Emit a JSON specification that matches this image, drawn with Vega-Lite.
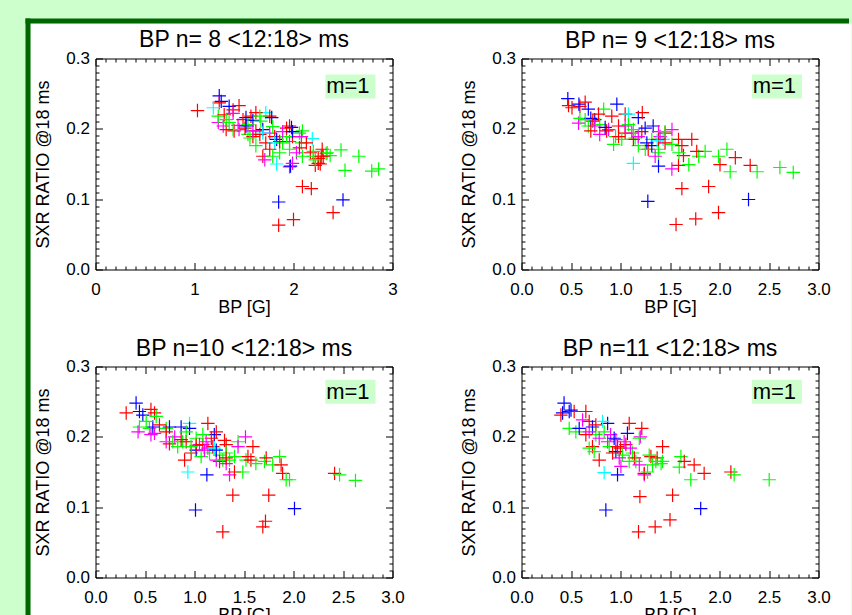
{
  "$schema": "https://vega.github.io/schema/vega-lite/v6.json",
  "background": "#ccffcc",
  "padding": {"left": 23.5, "top": 16.5, "right": 0, "bottom": 0},
  "columns": 2,
  "spacing": {"row": 97, "column": 129},
  "bounds": "flush",
  "config": {
    "view": {"stroke": null},
    "font": "Liberation Sans",
    "axis": {"domainColor": "black", "domainWidth": 1, "tickColor": "black", "tickWidth": 1, "labelColor": "black", "labelFont": "Liberation Sans", "labelFontSize": 17, "titleFont": "Liberation Sans", "titleFontSize": 18, "titleFontWeight": "normal", "titleColor": "black", "grid": false, "zindex": 1, "minExtent": 0, "labelOverlap": false, "labelFlush": false, "labelBound": false}
  },
  "datasets": {
    "p8": [
      {"c":"r","x":1.03,"y":0.226},{"c":"b","x":1.85,"y":0.096},{"c":"b","x":2.50,"y":0.099},{"c":"r","x":1.85,"y":0.063},{"c":"r","x":2.00,"y":0.071},{"c":"r","x":2.40,"y":0.081},{"c":"r","x":2.09,"y":0.118},{"c":"r","x":2.18,"y":0.115},{"c":"g","x":2.52,"y":0.141},{"c":"g","x":2.66,"y":0.161},{"c":"g","x":2.48,"y":0.170},{"c":"g","x":2.79,"y":0.140},{"c":"g","x":2.86,"y":0.143},{"c":"c","x":2.19,"y":0.186},{"c":"c","x":1.83,"y":0.150},{"c":"m","x":1.96,"y":0.146},{"c":"b","x":1.97,"y":0.147},{"c":"g","x":2.37,"y":0.162},{"c":"r","x":2.27,"y":0.150},{"c":"r","x":2.22,"y":0.148},{"c":"r","x":2.30,"y":0.161},{"c":"g","x":2.20,"y":0.168},{"c":"g","x":2.09,"y":0.197},{"c":"g","x":2.33,"y":0.165},{"c":"r","x":2.25,"y":0.158},{"c":"b","x":1.25,"y":0.247},{"c":"b","x":1.27,"y":0.239},{"c":"b","x":1.35,"y":0.232},{"c":"r","x":1.25,"y":0.237},{"c":"r","x":1.45,"y":0.233},{"c":"c","x":1.19,"y":0.230},{"c":"m","x":1.24,"y":0.209},{"c":"m","x":1.29,"y":0.204},{"c":"g","x":1.24,"y":0.218},{"c":"r","x":1.30,"y":0.220},{"c":"g","x":1.35,"y":0.209},{"c":"r","x":1.40,"y":0.197},{"c":"m","x":1.45,"y":0.199},{"c":"g","x":1.54,"y":0.192},{"c":"b","x":1.52,"y":0.216},{"c":"r","x":1.57,"y":0.218},{"c":"b","x":1.59,"y":0.212},{"c":"r","x":1.62,"y":0.197},{"c":"r","x":1.66,"y":0.192},{"c":"c","x":1.72,"y":0.223},{"c":"r","x":1.76,"y":0.218},{"c":"b","x":1.78,"y":0.216},{"c":"g","x":1.67,"y":0.211},{"c":"b","x":1.69,"y":0.199},{"c":"r","x":1.72,"y":0.180},{"c":"r","x":1.69,"y":0.161},{"c":"m","x":1.71,"y":0.156},{"c":"g","x":1.62,"y":0.176},{"c":"g","x":1.86,"y":0.166},{"c":"m","x":1.76,"y":0.194},{"c":"r","x":1.81,"y":0.189},{"c":"b","x":1.83,"y":0.185},{"c":"c","x":1.81,"y":0.180},{"c":"g","x":1.89,"y":0.180},{"c":"r","x":1.96,"y":0.204},{"c":"b","x":1.98,"y":0.202},{"c":"r","x":1.99,"y":0.189},{"c":"m","x":1.96,"y":0.182},{"c":"g","x":2.06,"y":0.194},{"c":"g","x":2.08,"y":0.180},{"c":"r","x":2.06,"y":0.173},{"c":"m","x":2.03,"y":0.166},{"c":"g","x":1.96,"y":0.171},{"c":"r","x":1.86,"y":0.182},{"c":"g","x":1.93,"y":0.189},{"c":"r","x":1.93,"y":0.201},{"c":"m","x":1.89,"y":0.196},{"c":"g","x":1.79,"y":0.203},{"c":"c","x":1.69,"y":0.194},{"c":"r","x":1.59,"y":0.189},{"c":"g","x":1.56,"y":0.187},{"c":"r","x":1.51,"y":0.201},{"c":"m","x":1.44,"y":0.205},{"c":"g","x":1.39,"y":0.199},{"c":"r","x":1.32,"y":0.199},{"c":"g","x":1.32,"y":0.213},{"c":"r","x":1.39,"y":0.227},{"c":"m","x":1.39,"y":0.222},{"c":"r","x":1.49,"y":0.213},{"c":"g","x":1.54,"y":0.206},{"c":"r","x":1.62,"y":0.223},{"c":"g","x":1.66,"y":0.218},{"c":"b","x":1.52,"y":0.204},{"c":"m","x":1.59,"y":0.197},{"c":"r","x":1.76,"y":0.171},{"c":"g","x":1.79,"y":0.161},{"c":"m","x":1.99,"y":0.151},{"c":"g","x":2.09,"y":0.161},{"c":"r","x":2.13,"y":0.180},{"c":"r","x":2.17,"y":0.166},{"c":"g","x":2.20,"y":0.161},{"c":"r","x":2.25,"y":0.151},{"c":"g","x":2.22,"y":0.156},{"c":"r","x":2.29,"y":0.171},{"c":"g","x":2.34,"y":0.166},{"c":"r","x":2.28,"y":0.161},{"c":"m","x":2.08,"y":0.189},{"c":"b","x":1.99,"y":0.196}
    ],
    "p9": [
      {"c":"b","x":0.468,"y":0.243},{"c":"r","x":0.475,"y":0.233},{"c":"r","x":0.51,"y":0.230},{"c":"r","x":0.59,"y":0.232},{"c":"b","x":0.58,"y":0.235},{"c":"b","x":0.675,"y":0.228},{"c":"r","x":0.643,"y":0.238},{"c":"m","x":0.576,"y":0.208},{"c":"g","x":0.59,"y":0.215},{"c":"b","x":0.963,"y":0.235},{"c":"g","x":0.83,"y":0.228},{"c":"b","x":0.70,"y":0.215},{"c":"b","x":0.74,"y":0.213},{"c":"c","x":1.13,"y":0.151},{"c":"b","x":1.384,"y":0.147},{"c":"m","x":1.519,"y":0.143},{"c":"r","x":1.586,"y":0.148},{"c":"r","x":1.636,"y":0.162},{"c":"b","x":1.276,"y":0.097},{"c":"b","x":2.293,"y":0.0995},{"c":"r","x":1.561,"y":0.064},{"c":"r","x":1.76,"y":0.072},{"c":"r","x":1.99,"y":0.081},{"c":"r","x":1.62,"y":0.115},{"c":"r","x":1.89,"y":0.118},{"c":"g","x":2.61,"y":0.145},{"c":"g","x":2.745,"y":0.138},{"c":"g","x":2.38,"y":0.139},{"c":"r","x":2.31,"y":0.148},{"c":"g","x":2.108,"y":0.139},{"c":"r","x":2.16,"y":0.159},{"c":"r","x":2.005,"y":0.149},{"c":"g","x":2.075,"y":0.171},{"c":"g","x":1.99,"y":0.161},{"c":"g","x":1.855,"y":0.168},{"c":"g","x":1.79,"y":0.161},{"c":"g","x":1.69,"y":0.149},{"c":"r","x":1.72,"y":0.185},{"c":"r","x":1.77,"y":0.168},{"c":"r","x":1.586,"y":0.185},{"c":"r","x":1.62,"y":0.176},{"c":"g","x":1.52,"y":0.178},{"c":"m","x":1.52,"y":0.199},{"c":"r","x":1.45,"y":0.194},{"c":"g","x":1.59,"y":0.166},{"c":"g","x":1.384,"y":0.166},{"c":"r","x":0.778,"y":0.221},{"c":"r","x":0.912,"y":0.218},{"c":"g","x":0.79,"y":0.206},{"c":"m","x":0.88,"y":0.199},{"c":"r","x":0.86,"y":0.197},{"c":"m","x":0.79,"y":0.192},{"c":"r","x":0.98,"y":0.204},{"c":"b","x":0.845,"y":0.202},{"c":"g","x":0.93,"y":0.178},{"c":"g","x":0.95,"y":0.189},{"c":"r","x":1.047,"y":0.221},{"c":"c","x":1.08,"y":0.221},{"c":"b","x":1.18,"y":0.216},{"c":"r","x":1.22,"y":0.223},{"c":"g","x":1.08,"y":0.206},{"c":"r","x":1.047,"y":0.194},{"c":"m","x":1.114,"y":0.194},{"c":"g","x":1.148,"y":0.187},{"c":"r","x":1.215,"y":0.196},{"c":"b","x":1.249,"y":0.201},{"c":"b","x":1.33,"y":0.204},{"c":"m","x":1.384,"y":0.196},{"c":"g","x":1.316,"y":0.185},{"c":"b","x":1.266,"y":0.180},{"c":"r","x":1.28,"y":0.171},{"c":"m","x":1.35,"y":0.161},{"c":"g","x":1.384,"y":0.171},{"c":"c","x":1.43,"y":0.185},{"c":"r","x":1.45,"y":0.180},{"c":"g","x":1.18,"y":0.176},{"c":"r","x":1.13,"y":0.185},{"c":"m","x":1.18,"y":0.189},{"c":"g","x":1.013,"y":0.185},{"c":"r","x":0.98,"y":0.189},{"c":"g","x":1.25,"y":0.171},{"c":"b","x":1.316,"y":0.176},{"c":"r","x":1.384,"y":0.185},{"c":"m","x":1.40,"y":0.189},{"c":"g","x":1.45,"y":0.196},{"c":"r","x":0.72,"y":0.211},{"c":"g","x":0.675,"y":0.204},{"c":"m","x":0.74,"y":0.204},{"c":"r","x":0.70,"y":0.197},{"c":"g","x":0.643,"y":0.213},{"c":"m","x":1.047,"y":0.204},{"c":"g","x":1.13,"y":0.199},{"c":"c","x":1.37,"y":0.183}
    ],
    "p10": [
      {"c":"r","x":0.31,"y":0.234},{"c":"b","x":0.41,"y":0.248},{"c":"b","x":0.444,"y":0.236},{"c":"b","x":0.478,"y":0.231},{"c":"r","x":0.56,"y":0.239},{"c":"r","x":0.596,"y":0.234},{"c":"g","x":0.444,"y":0.214},{"c":"g","x":0.545,"y":0.212},{"c":"m","x":0.43,"y":0.207},{"c":"b","x":0.579,"y":0.214},{"c":"m","x":0.56,"y":0.203},{"c":"g","x":0.613,"y":0.229},{"c":"g","x":0.714,"y":0.212},{"c":"b","x":0.747,"y":0.214},{"c":"r","x":0.714,"y":0.207},{"c":"m","x":0.714,"y":0.193},{"c":"r","x":0.747,"y":0.19},{"c":"m","x":0.80,"y":0.20},{"c":"b","x":0.865,"y":0.214},{"c":"c","x":0.95,"y":0.219},{"c":"b","x":0.95,"y":0.212},{"c":"r","x":1.135,"y":0.219},{"c":"g","x":0.83,"y":0.186},{"c":"g","x":0.88,"y":0.193},{"c":"r","x":0.916,"y":0.193},{"c":"r","x":0.90,"y":0.167},{"c":"c","x":0.933,"y":0.150},{"c":"b","x":1.125,"y":0.146},{"c":"r","x":0.966,"y":0.177},{"c":"g","x":1.017,"y":0.198},{"c":"b","x":1.017,"y":0.181},{"c":"g","x":1.067,"y":0.172},{"c":"m","x":1.05,"y":0.189},{"c":"r","x":1.084,"y":0.189},{"c":"b","x":1.2,"y":0.203},{"c":"r","x":1.22,"y":0.207},{"c":"m","x":1.135,"y":0.184},{"c":"g","x":1.152,"y":0.177},{"c":"r","x":1.185,"y":0.186},{"c":"c","x":1.2,"y":0.184},{"c":"g","x":1.253,"y":0.174},{"c":"r","x":1.253,"y":0.165},{"c":"m","x":1.22,"y":0.167},{"c":"g","x":1.286,"y":0.167},{"c":"r","x":1.303,"y":0.195},{"c":"r","x":1.32,"y":0.189},{"c":"g","x":1.354,"y":0.167},{"c":"m","x":1.32,"y":0.162},{"c":"m","x":1.354,"y":0.146},{"c":"r","x":1.404,"y":0.150},{"c":"g","x":1.44,"y":0.193},{"c":"m","x":1.44,"y":0.186},{"c":"m","x":1.515,"y":0.200},{"c":"r","x":1.59,"y":0.186},{"c":"g","x":1.488,"y":0.150},{"c":"g","x":1.52,"y":0.167},{"c":"r","x":1.54,"y":0.172},{"c":"r","x":1.57,"y":0.167},{"c":"g","x":1.62,"y":0.162},{"c":"g","x":1.707,"y":0.165},{"c":"r","x":1.724,"y":0.170},{"c":"g","x":1.79,"y":0.160},{"c":"g","x":1.86,"y":0.172},{"c":"r","x":1.875,"y":0.160},{"c":"r","x":1.89,"y":0.148},{"c":"g","x":1.926,"y":0.139},{"c":"g","x":1.96,"y":0.139},{"c":"r","x":1.387,"y":0.117},{"c":"r","x":1.75,"y":0.117},{"c":"b","x":1.01,"y":0.096},{"c":"b","x":2.01,"y":0.098},{"c":"r","x":1.717,"y":0.080},{"c":"r","x":1.69,"y":0.072},{"c":"r","x":1.286,"y":0.065},{"c":"r","x":2.415,"y":0.148},{"c":"g","x":2.465,"y":0.146},{"c":"g","x":2.626,"y":0.138},{"c":"r","x":1.017,"y":0.188},{"c":"g","x":0.966,"y":0.186},{"c":"m","x":1.10,"y":0.181},{"c":"g","x":1.084,"y":0.203},{"c":"r","x":1.17,"y":0.198},{"c":"g","x":0.916,"y":0.207},{"c":"r","x":0.865,"y":0.196},{"c":"m","x":1.118,"y":0.193},{"c":"b","x":1.22,"y":0.181},{"c":"g","x":1.32,"y":0.177},{"c":"r","x":1.32,"y":0.170},{"c":"g","x":1.404,"y":0.172},{"c":"g","x":0.781,"y":0.193},{"c":"r","x":0.646,"y":0.217},{"c":"m","x":0.596,"y":0.205},{"c":"g","x":0.512,"y":0.222}
    ],
    "p11": [
      {"c":"b","x":0.43,"y":0.248},{"c":"b","x":0.415,"y":0.234},{"c":"b","x":0.482,"y":0.236},{"c":"r","x":0.398,"y":0.231},{"c":"r","x":0.532,"y":0.236},{"c":"b","x":0.50,"y":0.238},{"c":"r","x":0.65,"y":0.236},{"c":"g","x":0.482,"y":0.212},{"c":"g","x":0.549,"y":0.207},{"c":"b","x":0.583,"y":0.212},{"c":"m","x":0.617,"y":0.224},{"c":"r","x":0.684,"y":0.222},{"c":"b","x":0.717,"y":0.214},{"c":"r","x":0.751,"y":0.217},{"c":"b","x":0.87,"y":0.219},{"c":"c","x":0.819,"y":0.222},{"c":"g","x":0.751,"y":0.203},{"c":"m","x":0.785,"y":0.198},{"c":"r","x":0.717,"y":0.186},{"c":"g","x":0.734,"y":0.179},{"c":"r","x":0.785,"y":0.167},{"c":"c","x":0.835,"y":0.149},{"c":"b","x":0.97,"y":0.146},{"c":"m","x":0.87,"y":0.193},{"c":"g","x":0.886,"y":0.186},{"c":"b","x":0.953,"y":0.179},{"c":"r","x":0.97,"y":0.186},{"c":"m","x":0.953,"y":0.196},{"c":"r","x":1.0,"y":0.184},{"c":"g","x":1.02,"y":0.174},{"c":"b","x":1.07,"y":0.205},{"c":"r","x":1.088,"y":0.219},{"c":"r","x":1.215,"y":0.212},{"c":"m","x":1.2,"y":0.200},{"c":"g","x":1.19,"y":0.198},{"c":"r","x":1.054,"y":0.189},{"c":"m","x":1.037,"y":0.193},{"c":"g","x":1.12,"y":0.177},{"c":"r","x":1.14,"y":0.170},{"c":"g","x":1.155,"y":0.165},{"c":"m","x":1.19,"y":0.160},{"c":"m","x":1.24,"y":0.146},{"c":"r","x":1.24,"y":0.148},{"c":"g","x":1.273,"y":0.150},{"c":"r","x":1.307,"y":0.172},{"c":"r","x":1.425,"y":0.186},{"c":"r","x":1.37,"y":0.170},{"c":"g","x":1.41,"y":0.162},{"c":"g","x":1.357,"y":0.165},{"c":"g","x":1.61,"y":0.172},{"c":"g","x":1.594,"y":0.157},{"c":"r","x":1.644,"y":0.165},{"c":"r","x":1.744,"y":0.160},{"c":"r","x":1.845,"y":0.148},{"c":"g","x":1.71,"y":0.139},{"c":"r","x":2.115,"y":0.150},{"c":"g","x":2.148,"y":0.146},{"c":"g","x":2.502,"y":0.139},{"c":"r","x":1.196,"y":0.115},{"c":"r","x":1.526,"y":0.117},{"c":"b","x":0.852,"y":0.096},{"c":"b","x":1.81,"y":0.098},{"c":"r","x":1.50,"y":0.082},{"c":"r","x":1.35,"y":0.072},{"c":"r","x":1.182,"y":0.065},{"c":"g","x":0.684,"y":0.184},{"c":"r","x":0.65,"y":0.203},{"c":"m","x":0.684,"y":0.207},{"c":"g","x":0.835,"y":0.207},{"c":"m","x":0.90,"y":0.203},{"c":"r","x":0.92,"y":0.177},{"c":"m","x":0.987,"y":0.170},{"c":"b","x":0.936,"y":0.198},{"c":"g","x":1.088,"y":0.165},{"c":"m","x":1.10,"y":0.184},{"c":"g","x":1.29,"y":0.174},{"c":"g","x":1.425,"y":0.165},{"c":"g","x":1.323,"y":0.160},{"c":"m","x":1.004,"y":0.158}
    ]
  },
  "concat": [
    {
      "width": 297, "height": 211,
      "title": {"text": "BP n= 8 <12:18> ms", "fontSize": 23, "fontWeight": "normal", "color": "black", "font": "Liberation Sans", "baseline": "alphabetic", "anchor": "middle", "frame": "group", "offset": -52.5, "zindex": 1},
      "resolve": {"axis": {"x": "independent", "y": "independent"}},
      "layer": [
        {"data": {"values": [{}]}, "mark": {"type": "rect", "fill": "white"},
         "encoding": {"x": {"datum": -0.6566, "type": "quantitative", "scale": {"domain": [0, 3], "nice": false, "zero": false}, "axis": null}, "x2": {"datum": 7.6364},
                      "y": {"datum": 0.3498, "type": "quantitative", "scale": {"domain": [0, 0.3], "nice": false, "zero": false}, "axis": null}, "y2": {"datum": -0.5048}}},
        {"data": {"values": [{}]}, "mark": {"type": "rule", "color": "#006600", "strokeWidth": 5, "strokeCap": "square"},
         "encoding": {"x": {"datum": -0.6818, "type": "quantitative", "scale": {"domain": [0, 3], "nice": false, "zero": false}, "axis": null}, "x2": {"datum": 7.5859},
                      "y": {"datum": 0.3533, "type": "quantitative", "scale": {"domain": [0, 0.3], "nice": false, "zero": false}, "axis": null}}},
        {"data": {"values": [{}]}, "mark": {"type": "rule", "color": "#006600", "strokeWidth": 5, "strokeCap": "square"},
         "encoding": {"x": {"datum": -0.6818, "type": "quantitative", "scale": {"domain": [0, 3], "nice": false, "zero": false}, "axis": null},
                      "y": {"datum": 0.3533, "type": "quantitative", "scale": {"domain": [0, 0.3], "nice": false, "zero": false}, "axis": null}, "y2": {"datum": -0.4977}}},
        {"data": {"values": [{}]}, "mark": {"type": "rect", "fill": "#ccffcc"},
         "encoding": {
           "x": {"datum": 2.323, "type": "quantitative", "scale": {"domain": [0, 3], "nice": false, "zero": false},
                 "axis": {"orient": "top", "zindex": 1, "minExtent": 0, "maxExtent": 0, "title": null, "labels": false, "values": [0,0.1,0.2,0.3,0.4,0.5,0.6,0.7,0.8,0.9,1,1.1,1.2,1.3,1.4,1.5,1.6,1.7,1.8,1.9,2,2.1,2.2,2.3,2.4,2.5,2.6,2.7,2.8,2.9,3],
                          "tickSize": {"condition": {"test": "abs(datum.value-round(datum.value))<0.001", "value": -7}, "value": -3.5}}},
           "x2": {"datum": 2.828},
           "y": {"datum": 0.2773, "type": "quantitative", "scale": {"domain": [0, 0.3], "nice": false, "zero": false},
                 "axis": {"orient": "right", "zindex": 1, "minExtent": 0, "maxExtent": 0, "title": null, "labels": false, "values": [0,0.01,0.02,0.03,0.04,0.05,0.06,0.07,0.08,0.09,0.1,0.11,0.12,0.13,0.14,0.15,0.16,0.17,0.18,0.19,0.2,0.21,0.22,0.23,0.24,0.25,0.26,0.27,0.28,0.29,0.3],
                          "tickSize": {"condition": {"test": "abs(datum.value*10-round(datum.value*10))<0.001", "value": -7}, "value": -3.5}}},
           "y2": {"datum": 0.2431}}},
        {"data": {"values": [{}]}, "mark": {"type": "text", "text": "m=1", "align": "left", "baseline": "alphabetic", "fontSize": 22, "font": "Liberation Sans", "color": "black"},
         "encoding": {"x": {"datum": 2.33, "type": "quantitative", "scale": {"domain": [0, 3], "nice": false, "zero": false}, "axis": null},
                      "y": {"datum": 0.2503, "type": "quantitative", "scale": {"domain": [0, 0.3], "nice": false, "zero": false}, "axis": null}}},
        {"data": {"name": "p8"}, "mark": {"type": "point", "shape": "M-1,0H1M0,-1V1", "filled": false, "strokeWidth": 1.2, "size": 180, "opacity": 1},
         "encoding": {
           "x": {"field": "x", "type": "quantitative", "scale": {"domain": [0, 3], "nice": false, "zero": false},
                 "axis": {"orient": "bottom", "zindex": 1, "minExtent": 0, "title": "BP [G]", "titlePadding": -2.5, "labelPadding": 18.5, "values": [0,0.1,0.2,0.3,0.4,0.5,0.6,0.7,0.8,0.9,1,1.1,1.2,1.3,1.4,1.5,1.6,1.7,1.8,1.9,2,2.1,2.2,2.3,2.4,2.5,2.6,2.7,2.8,2.9,3],
                          "labelExpr": "abs(datum.value-round(datum.value))<0.001 ? format(datum.value, '.0f') : ''",
                          "tickSize": {"condition": {"test": "abs(datum.value-round(datum.value))<0.001", "value": -7}, "value": -3.5}}},
           "y": {"field": "y", "type": "quantitative", "scale": {"domain": [0, 0.3], "nice": false, "zero": false},
                 "axis": {"orient": "left", "zindex": 1, "minExtent": 0, "title": "SXR RATIO @18 ms", "titlePadding": 13, "labelPadding": 13, "values": [0,0.01,0.02,0.03,0.04,0.05,0.06,0.07,0.08,0.09,0.1,0.11,0.12,0.13,0.14,0.15,0.16,0.17,0.18,0.19,0.2,0.21,0.22,0.23,0.24,0.25,0.26,0.27,0.28,0.29,0.3],
                          "labelExpr": "abs(datum.value*10-round(datum.value*10))<0.001 ? format(datum.value, '.1f') : ''",
                          "tickSize": {"condition": {"test": "abs(datum.value*10-round(datum.value*10))<0.001", "value": -7}, "value": -3.5}}},
           "color": {"field": "c", "type": "nominal", "scale": {"domain": ["r","g","b","c","m"], "range": ["#ff0000","#00ff00","#0000ff","#00ffff","#ff00ff"]}, "legend": null}}}
      ]
    },
    {
      "width": 297, "height": 211,
      "title": {"text": "BP n= 9 <12:18> ms", "fontSize": 23, "fontWeight": "normal", "color": "black", "font": "Liberation Sans", "baseline": "alphabetic", "anchor": "middle", "frame": "group", "offset": -21, "zindex": 1},
      "resolve": {"axis": {"x": "independent", "y": "independent"}},
      "layer": [
        {"data": {"values": [{}]}, "mark": {"type": "rect", "fill": "#ccffcc"},
         "encoding": {
           "x": {"datum": 2.327, "type": "quantitative", "scale": {"domain": [0, 3], "nice": false, "zero": false},
                 "axis": {"orient": "top", "zindex": 1, "minExtent": 0, "maxExtent": 0, "title": null, "labels": false, "values": [0,0.1,0.2,0.3,0.4,0.5,0.6,0.7,0.8,0.9,1,1.1,1.2,1.3,1.4,1.5,1.6,1.7,1.8,1.9,2,2.1,2.2,2.3,2.4,2.5,2.6,2.7,2.8,2.9,3],
                          "tickSize": {"condition": {"test": "abs(datum.value*2-round(datum.value*2))<0.001", "value": -7}, "value": -3.5}}},
           "x2": {"datum": 2.832},
           "y": {"datum": 0.2773, "type": "quantitative", "scale": {"domain": [0, 0.3], "nice": false, "zero": false},
                 "axis": {"orient": "right", "zindex": 1, "minExtent": 0, "maxExtent": 0, "title": null, "labels": false, "values": [0,0.01,0.02,0.03,0.04,0.05,0.06,0.07,0.08,0.09,0.1,0.11,0.12,0.13,0.14,0.15,0.16,0.17,0.18,0.19,0.2,0.21,0.22,0.23,0.24,0.25,0.26,0.27,0.28,0.29,0.3],
                          "tickSize": {"condition": {"test": "abs(datum.value*10-round(datum.value*10))<0.001", "value": -7}, "value": -3.5}}},
           "y2": {"datum": 0.2431}}},
        {"data": {"values": [{}]}, "mark": {"type": "text", "text": "m=1", "align": "left", "baseline": "alphabetic", "fontSize": 22, "font": "Liberation Sans", "color": "black"},
         "encoding": {"x": {"datum": 2.335, "type": "quantitative", "scale": {"domain": [0, 3], "nice": false, "zero": false}, "axis": null},
                      "y": {"datum": 0.2503, "type": "quantitative", "scale": {"domain": [0, 0.3], "nice": false, "zero": false}, "axis": null}}},
        {"data": {"name": "p9"}, "mark": {"type": "point", "shape": "M-1,0H1M0,-1V1", "filled": false, "strokeWidth": 1.2, "size": 180, "opacity": 1},
         "encoding": {
           "x": {"field": "x", "type": "quantitative", "scale": {"domain": [0, 3], "nice": false, "zero": false},
                 "axis": {"orient": "bottom", "zindex": 1, "minExtent": 0, "title": "BP [G]", "titlePadding": -2.5, "labelPadding": 18.5, "values": [0,0.1,0.2,0.3,0.4,0.5,0.6,0.7,0.8,0.9,1,1.1,1.2,1.3,1.4,1.5,1.6,1.7,1.8,1.9,2,2.1,2.2,2.3,2.4,2.5,2.6,2.7,2.8,2.9,3],
                          "labelExpr": "abs(datum.value*2-round(datum.value*2))<0.001 ? format(datum.value, '.1f') : ''",
                          "tickSize": {"condition": {"test": "abs(datum.value*2-round(datum.value*2))<0.001", "value": -7}, "value": -3.5}}},
           "y": {"field": "y", "type": "quantitative", "scale": {"domain": [0, 0.3], "nice": false, "zero": false},
                 "axis": {"orient": "left", "zindex": 1, "minExtent": 0, "title": "SXR RATIO @18 ms", "titlePadding": 13, "labelPadding": 13, "values": [0,0.01,0.02,0.03,0.04,0.05,0.06,0.07,0.08,0.09,0.1,0.11,0.12,0.13,0.14,0.15,0.16,0.17,0.18,0.19,0.2,0.21,0.22,0.23,0.24,0.25,0.26,0.27,0.28,0.29,0.3],
                          "labelExpr": "abs(datum.value*10-round(datum.value*10))<0.001 ? format(datum.value, '.1f') : ''",
                          "tickSize": {"condition": {"test": "abs(datum.value*10-round(datum.value*10))<0.001", "value": -7}, "value": -3.5}}},
           "color": {"field": "c", "type": "nominal", "scale": {"domain": ["r","g","b","c","m"], "range": ["#ff0000","#00ff00","#0000ff","#00ffff","#ff00ff"]}, "legend": null}}}
      ]
    },
    {
      "width": 297, "height": 211,
      "title": {"text": "BP n=10 <12:18> ms", "fontSize": 23, "fontWeight": "normal", "color": "black", "font": "Liberation Sans", "baseline": "alphabetic", "anchor": "middle", "frame": "group", "offset": -21, "zindex": 1},
      "resolve": {"axis": {"x": "independent", "y": "independent"}},
      "layer": [
        {"data": {"values": [{}]}, "mark": {"type": "rect", "fill": "#ccffcc"},
         "encoding": {
           "x": {"datum": 2.323, "type": "quantitative", "scale": {"domain": [0, 3], "nice": false, "zero": false},
                 "axis": {"orient": "top", "zindex": 1, "minExtent": 0, "maxExtent": 0, "title": null, "labels": false, "values": [0,0.1,0.2,0.3,0.4,0.5,0.6,0.7,0.8,0.9,1,1.1,1.2,1.3,1.4,1.5,1.6,1.7,1.8,1.9,2,2.1,2.2,2.3,2.4,2.5,2.6,2.7,2.8,2.9,3],
                          "tickSize": {"condition": {"test": "abs(datum.value*2-round(datum.value*2))<0.001", "value": -7}, "value": -3.5}}},
           "x2": {"datum": 2.828},
           "y": {"datum": 0.281, "type": "quantitative", "scale": {"domain": [0, 0.3], "nice": false, "zero": false},
                 "axis": {"orient": "right", "zindex": 1, "minExtent": 0, "maxExtent": 0, "title": null, "labels": false, "values": [0,0.01,0.02,0.03,0.04,0.05,0.06,0.07,0.08,0.09,0.1,0.11,0.12,0.13,0.14,0.15,0.16,0.17,0.18,0.19,0.2,0.21,0.22,0.23,0.24,0.25,0.26,0.27,0.28,0.29,0.3],
                          "tickSize": {"condition": {"test": "abs(datum.value*10-round(datum.value*10))<0.001", "value": -7}, "value": -3.5}}},
           "y2": {"datum": 0.247}}},
        {"data": {"values": [{}]}, "mark": {"type": "text", "text": "m=1", "align": "left", "baseline": "alphabetic", "fontSize": 22, "font": "Liberation Sans", "color": "black"},
         "encoding": {"x": {"datum": 2.33, "type": "quantitative", "scale": {"domain": [0, 3], "nice": false, "zero": false}, "axis": null},
                      "y": {"datum": 0.2536, "type": "quantitative", "scale": {"domain": [0, 0.3], "nice": false, "zero": false}, "axis": null}}},
        {"data": {"name": "p10"}, "mark": {"type": "point", "shape": "M-1,0H1M0,-1V1", "filled": false, "strokeWidth": 1.2, "size": 180, "opacity": 1},
         "encoding": {
           "x": {"field": "x", "type": "quantitative", "scale": {"domain": [0, 3], "nice": false, "zero": false},
                 "axis": {"orient": "bottom", "zindex": 1, "minExtent": 0, "title": "BP [G]", "titlePadding": -2.5, "labelPadding": 18.5, "values": [0,0.1,0.2,0.3,0.4,0.5,0.6,0.7,0.8,0.9,1,1.1,1.2,1.3,1.4,1.5,1.6,1.7,1.8,1.9,2,2.1,2.2,2.3,2.4,2.5,2.6,2.7,2.8,2.9,3],
                          "labelExpr": "abs(datum.value*2-round(datum.value*2))<0.001 ? format(datum.value, '.1f') : ''",
                          "tickSize": {"condition": {"test": "abs(datum.value*2-round(datum.value*2))<0.001", "value": -7}, "value": -3.5}}},
           "y": {"field": "y", "type": "quantitative", "scale": {"domain": [0, 0.3], "nice": false, "zero": false},
                 "axis": {"orient": "left", "zindex": 1, "minExtent": 0, "title": "SXR RATIO @18 ms", "titlePadding": 13, "labelPadding": 13, "values": [0,0.01,0.02,0.03,0.04,0.05,0.06,0.07,0.08,0.09,0.1,0.11,0.12,0.13,0.14,0.15,0.16,0.17,0.18,0.19,0.2,0.21,0.22,0.23,0.24,0.25,0.26,0.27,0.28,0.29,0.3],
                          "labelExpr": "abs(datum.value*10-round(datum.value*10))<0.001 ? format(datum.value, '.1f') : ''",
                          "tickSize": {"condition": {"test": "abs(datum.value*10-round(datum.value*10))<0.001", "value": -7}, "value": -3.5}}},
           "color": {"field": "c", "type": "nominal", "scale": {"domain": ["r","g","b","c","m"], "range": ["#ff0000","#00ff00","#0000ff","#00ffff","#ff00ff"]}, "legend": null}}}
      ]
    },
    {
      "width": 297, "height": 211,
      "title": {"text": "BP n=11 <12:18> ms", "fontSize": 23, "fontWeight": "normal", "color": "black", "font": "Liberation Sans", "baseline": "alphabetic", "anchor": "middle", "frame": "group", "offset": -21, "zindex": 1},
      "resolve": {"axis": {"x": "independent", "y": "independent"}},
      "layer": [
        {"data": {"values": [{}]}, "mark": {"type": "rect", "fill": "#ccffcc"},
         "encoding": {
           "x": {"datum": 2.327, "type": "quantitative", "scale": {"domain": [0, 3], "nice": false, "zero": false},
                 "axis": {"orient": "top", "zindex": 1, "minExtent": 0, "maxExtent": 0, "title": null, "labels": false, "values": [0,0.1,0.2,0.3,0.4,0.5,0.6,0.7,0.8,0.9,1,1.1,1.2,1.3,1.4,1.5,1.6,1.7,1.8,1.9,2,2.1,2.2,2.3,2.4,2.5,2.6,2.7,2.8,2.9,3],
                          "tickSize": {"condition": {"test": "abs(datum.value*2-round(datum.value*2))<0.001", "value": -7}, "value": -3.5}}},
           "x2": {"datum": 2.832},
           "y": {"datum": 0.281, "type": "quantitative", "scale": {"domain": [0, 0.3], "nice": false, "zero": false},
                 "axis": {"orient": "right", "zindex": 1, "minExtent": 0, "maxExtent": 0, "title": null, "labels": false, "values": [0,0.01,0.02,0.03,0.04,0.05,0.06,0.07,0.08,0.09,0.1,0.11,0.12,0.13,0.14,0.15,0.16,0.17,0.18,0.19,0.2,0.21,0.22,0.23,0.24,0.25,0.26,0.27,0.28,0.29,0.3],
                          "tickSize": {"condition": {"test": "abs(datum.value*10-round(datum.value*10))<0.001", "value": -7}, "value": -3.5}}},
           "y2": {"datum": 0.247}}},
        {"data": {"values": [{}]}, "mark": {"type": "text", "text": "m=1", "align": "left", "baseline": "alphabetic", "fontSize": 22, "font": "Liberation Sans", "color": "black"},
         "encoding": {"x": {"datum": 2.335, "type": "quantitative", "scale": {"domain": [0, 3], "nice": false, "zero": false}, "axis": null},
                      "y": {"datum": 0.2536, "type": "quantitative", "scale": {"domain": [0, 0.3], "nice": false, "zero": false}, "axis": null}}},
        {"data": {"name": "p11"}, "mark": {"type": "point", "shape": "M-1,0H1M0,-1V1", "filled": false, "strokeWidth": 1.2, "size": 180, "opacity": 1},
         "encoding": {
           "x": {"field": "x", "type": "quantitative", "scale": {"domain": [0, 3], "nice": false, "zero": false},
                 "axis": {"orient": "bottom", "zindex": 1, "minExtent": 0, "title": "BP [G]", "titlePadding": -2.5, "labelPadding": 18.5, "values": [0,0.1,0.2,0.3,0.4,0.5,0.6,0.7,0.8,0.9,1,1.1,1.2,1.3,1.4,1.5,1.6,1.7,1.8,1.9,2,2.1,2.2,2.3,2.4,2.5,2.6,2.7,2.8,2.9,3],
                          "labelExpr": "abs(datum.value*2-round(datum.value*2))<0.001 ? format(datum.value, '.1f') : ''",
                          "tickSize": {"condition": {"test": "abs(datum.value*2-round(datum.value*2))<0.001", "value": -7}, "value": -3.5}}},
           "y": {"field": "y", "type": "quantitative", "scale": {"domain": [0, 0.3], "nice": false, "zero": false},
                 "axis": {"orient": "left", "zindex": 1, "minExtent": 0, "title": "SXR RATIO @18 ms", "titlePadding": 13, "labelPadding": 13, "values": [0,0.01,0.02,0.03,0.04,0.05,0.06,0.07,0.08,0.09,0.1,0.11,0.12,0.13,0.14,0.15,0.16,0.17,0.18,0.19,0.2,0.21,0.22,0.23,0.24,0.25,0.26,0.27,0.28,0.29,0.3],
                          "labelExpr": "abs(datum.value*10-round(datum.value*10))<0.001 ? format(datum.value, '.1f') : ''",
                          "tickSize": {"condition": {"test": "abs(datum.value*10-round(datum.value*10))<0.001", "value": -7}, "value": -3.5}}},
           "color": {"field": "c", "type": "nominal", "scale": {"domain": ["r","g","b","c","m"], "range": ["#ff0000","#00ff00","#0000ff","#00ffff","#ff00ff"]}, "legend": null}}}
      ]
    }
  ]
}
